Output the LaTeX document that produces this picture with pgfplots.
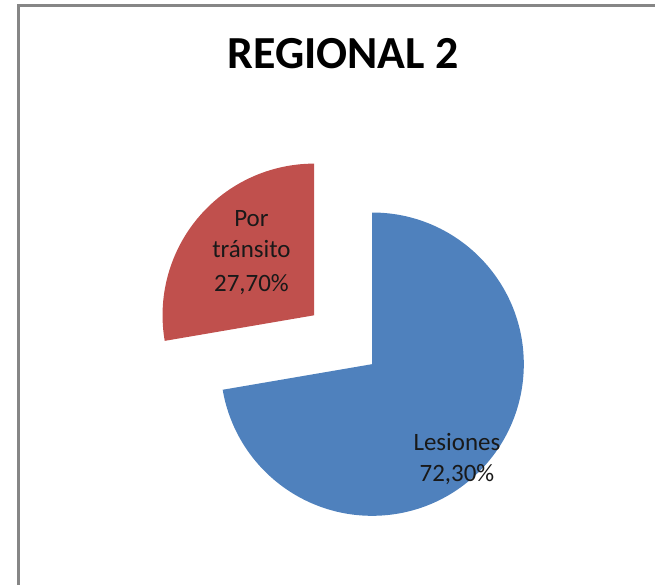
\documentclass[border=0pt]{standalone}
\usepackage{pgfplots}
\usepackage{pgfplotstable}
\pgfplotsset{compat=1.18}
\usetikzlibrary{calc}
\usepackage{fontspec}
\setmainfont{Carlito}
\definecolor{blueS}{RGB}{79,129,189}
\definecolor{redS}{RGB}{192,80,77}
\definecolor{frameC}{RGB}{134,134,134}
\pgfplotstableread{
label value
Lesiones 72.3
Transito 27.7
}\piedata
\pgfplotstablegetelem{0}{value}\of\piedata \let\vA\pgfplotsretval
\pgfplotstablegetelem{1}{value}\of\piedata \let\vB\pgfplotsretval
\pgfmathsetmacro\endA{90-3.6*\vA}
\pgfmathsetmacro\endB{\endA-3.6*\vB}
\pgfmathsetmacro\midB{(\endA+\endB)/2}
\begin{document}%
\begin{tikzpicture}
\begin{axis}[x=0.5pt,y=0.5pt,xmin=0,xmax=656,ymin=0,ymax=586,hide axis,clip=false]
\path (axis cs:0,0) rectangle (axis cs:656,586);
% frame
\draw[frameC,line width=1.5pt] (axis cs:18.5,0) -- (axis cs:18.5,580) -- (axis cs:656,580);
% slices
\fill[blueS] (axis cs:373,221) -- ++(90:76pt) arc[start angle=90,end angle=\endA,radius=76pt] -- cycle;
\fill[redS] ($(axis cs:373,221)+(\midB:38pt)$) -- ++(\endA:76pt) arc[start angle=\endA,end angle=\endB,radius=76pt] -- cycle;
% title
\node[anchor=base,inner sep=0pt,font=\fontsize{23}{27}\selectfont\bfseries] at (axis cs:344,517) {REGIONAL 2};
% labels
\begin{scope}[every node/.style={anchor=base,font=\fontsize{12.5}{15}\selectfont,text=black!90,inner sep=0pt}]
\node at (axis cs:252,359) {Por};
\node at (axis cs:252,328) {tránsito};
\node at (axis cs:252,294) {27,70\%};
\node at (axis cs:458,134) {Lesiones};
\node at (axis cs:458,103) {72,30\%};
\end{scope}
\end{axis}
\end{tikzpicture}%
\end{document}
